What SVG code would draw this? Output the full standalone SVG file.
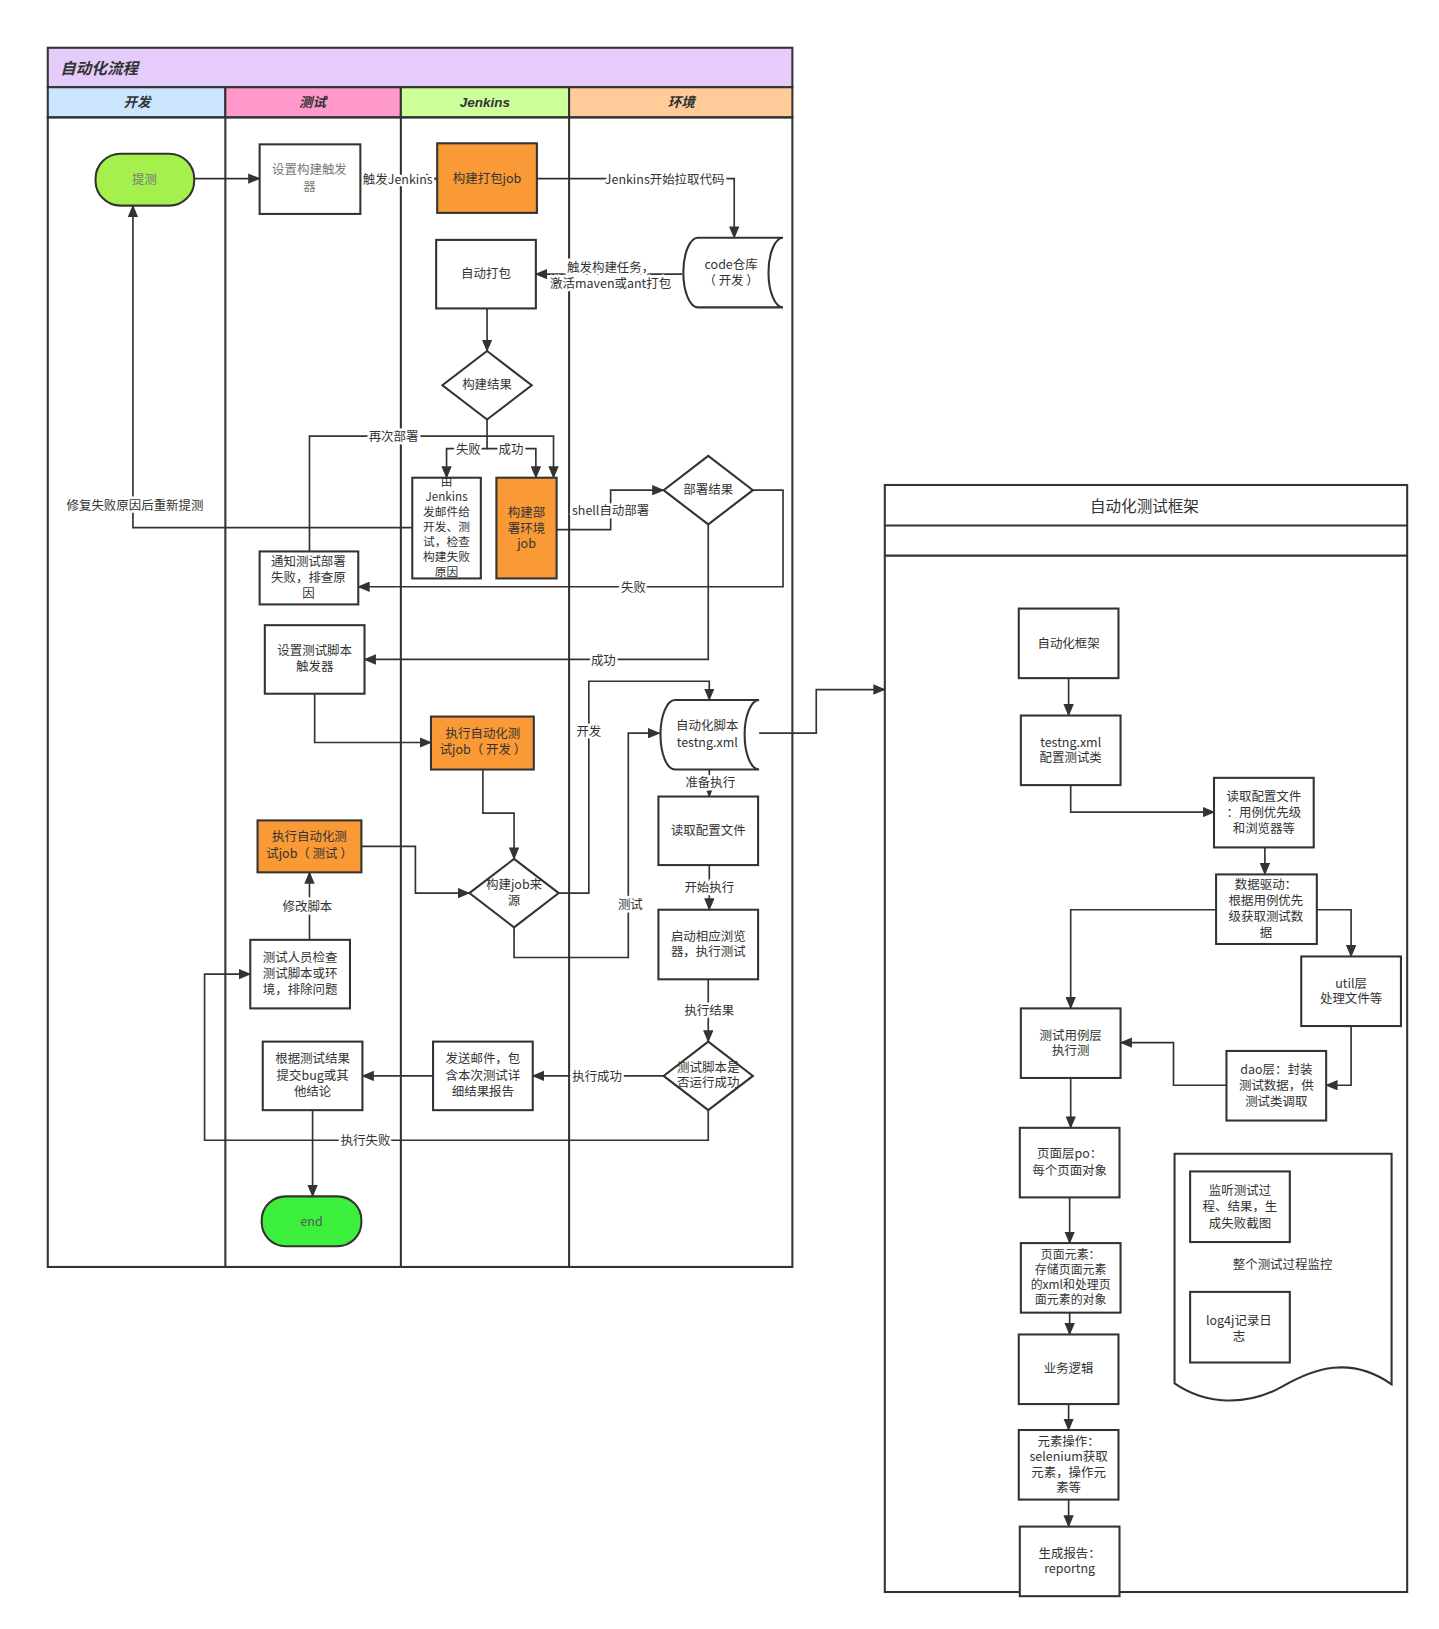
<svg xmlns="http://www.w3.org/2000/svg" width="1439" height="1629" viewBox="0 0 1439 1629">
<defs>
<marker id="arr" markerUnits="userSpaceOnUse" markerWidth="12" markerHeight="10" refX="11" refY="5" orient="auto">
<path d="M0,0 L12,5 L0,10 z" fill="#333"/>
</marker>
<style>
.bx{fill:#fff;stroke:#333;stroke-width:2}
.or{fill:#F99A36;stroke:#333;stroke-width:2}
.t{font-family:"Noto Sans CJK SC","Liberation Sans",sans-serif;font-size:12px;fill:#333;text-anchor:middle}
.g{fill:#777}
.h{font-family:"Liberation Sans","Noto Sans CJK SC",sans-serif;font-size:13px;font-style:italic;font-weight:bold;fill:#333;text-anchor:middle}
.c{fill:none;stroke:#333;stroke-width:1.6;marker-end:url(#arr)}
.lb{font-family:"Noto Sans CJK SC","Liberation Sans",sans-serif;font-size:12px;fill:#333;text-anchor:middle;paint-order:stroke;stroke:#fff;stroke-width:5px;stroke-linejoin:round}
</style>
</defs>
<rect width="1439" height="1629" fill="#fff"/>
<g id="diagram" transform="scale(1.0385)">

<g id="pool">
<rect x="46" y="46" width="717" height="38" fill="#E6CCFB" stroke="#333" stroke-width="2"/>
<text x="58" y="71" class="h" style="text-anchor:start;font-size:15px">自动化流程</text>
<rect x="46" y="84" width="171" height="29" fill="#CCE5FF" stroke="#333" stroke-width="2"/>
<rect x="217" y="84" width="169" height="29" fill="#FF99CC" stroke="#333" stroke-width="2"/>
<rect x="386" y="84" width="162" height="29" fill="#CCFF99" stroke="#333" stroke-width="2"/>
<rect x="548" y="84" width="215" height="29" fill="#FFCC99" stroke="#333" stroke-width="2"/>
<text x="132" y="103" class="h">开发</text>
<text x="301" y="103" class="h">测试</text>
<text x="467" y="103" class="h">Jenkins</text>
<text x="656" y="103" class="h">环境</text>
<rect x="46" y="113" width="717" height="1107" fill="none" stroke="#333" stroke-width="2"/>
<line x1="217" y1="113" x2="217" y2="1220" stroke="#333" stroke-width="2"/>
<line x1="386" y1="113" x2="386" y2="1220" stroke="#333" stroke-width="2"/>
<line x1="548" y1="113" x2="548" y2="1220" stroke="#333" stroke-width="2"/>
</g>

<g id="framework">
<rect x="852" y="467" width="503" height="1066" fill="#fff" stroke="#333" stroke-width="2"/>
<line x1="852" y1="506" x2="1355" y2="506" stroke="#333" stroke-width="2"/>
<line x1="852" y1="535" x2="1355" y2="535" stroke="#333" stroke-width="2"/>
<text x="1102" y="493" class="t" style="font-size:15px">自动化测试框架</text>
</g>

<g id="connectors">
<path class="c" d="M187,172 H250"/>
<path class="c" d="M347,172 H421"/>
<path class="c" d="M517,172 H707 V229"/>
<path class="c" d="M657,264 H516"/>
<path class="c" d="M469,297 V338"/>
<path class="c" d="M469,404 V432 H430 V460"/>
<path class="c" d="M469,432 H516 V460"/>
<path class="c" d="M298,531 V420 H533 V460"/>
<path class="c" d="M397,508 H128 V198"/>
<path class="c" d="M536,510 H588 V472 H639"/>
<path class="c" d="M725,472 H754 V565 H345"/>
<path class="c" d="M682,505 V635 H351"/>
<path class="c" d="M303,668 V715 H415"/>
<path class="c" d="M465,741 V783 H495 V827"/>
<path class="c" d="M348,815 H400 V860 H452"/>
<path class="c" d="M538,860 H567 V656 H683 V674"/>
<path class="c" d="M495,893 V922 H605 V706 H635"/>
<path class="c" d="M683,741 V767"/>
<path class="c" d="M683,833 V876"/>
<path class="c" d="M682,943 V1003"/>
<path class="c" d="M639,1036 H513"/>
<path class="c" d="M417,1036 H349"/>
<path class="c" d="M682,1069 V1098 H197 V938 H241"/>
<path class="c" d="M298,905 V840"/>
<path class="c" d="M301,1069 V1152"/>
<path class="c" d="M731,706 H786 V664 H852"/>
<path class="c" d="M1029,653 V689"/>
<path class="c" d="M1031,756 V782 H1169"/>
<path class="c" d="M1218,816 V842"/>
<path class="c" d="M1171,876 H1031 V971"/>
<path class="c" d="M1268,876 H1301 V921"/>
<path class="c" d="M1301,988 V1045 H1277"/>
<path class="c" d="M1181,1045 H1130 V1004 H1079"/>
<path class="c" d="M1031,1038 V1086"/>
<path class="c" d="M1030,1153 V1197"/>
<path class="c" d="M1030,1264 V1285"/>
<path class="c" d="M1029,1352 V1377"/>
<path class="c" d="M1029,1444 V1470"/>
<text class="lb" x="383" y="177">触发Jenkins</text>
<text class="lb" x="640" y="177">Jenkins开始拉取代码</text>
<text class="lb" x="588" y="262">触发构建任务，<tspan x="588" dy="15">激活maven或ant打包</tspan></text>
<text class="lb" x="451" y="437">失败</text>
<text class="lb" x="492" y="437">成功</text>
<text class="lb" x="379" y="425">再次部署</text>
<text class="lb" x="130" y="491">修复失败原因后重新提测</text>
<text class="lb" x="588" y="496">shell自动部署</text>
<text class="lb" x="610" y="570">失败</text>
<text class="lb" x="581" y="640">成功</text>
<text class="lb" x="567" y="709">开发</text>
<text class="lb" x="607" y="875">测试</text>
<text class="lb" x="684" y="758">准备执行</text>
<text class="lb" x="683" y="859">开始执行</text>
<text class="lb" x="683" y="977">执行结果</text>
<text class="lb" x="575" y="1041">执行成功</text>
<text class="lb" x="352" y="1103">执行失败</text>
<text class="lb" x="296" y="877">修改脚本</text>
</g>

<g id="n-tice"><rect x="92" y="148" width="95" height="50" rx="24" fill="#A6F04E" stroke="#333" stroke-width="2"/><text class="t g" x="139" y="177">提测</text></g>
<g id="n-trigger"><rect class="bx" x="250" y="139" width="97" height="67"/><text class="t g" x="298" y="168">设置构建触发<tspan x="298" dy="15.5">器</tspan></text></g>
<g id="n-buildjob"><rect class="or" x="421" y="138" width="96" height="67"/><text class="t" x="469" y="176">构建打包job</text></g>
<g id="n-code"><path class="bx" d="M672,229 H754 A14 33.5 0 0 0 754,296 H672 A14 33.5 0 0 1 672,229 Z"/><text class="t" x="704" y="259">code仓库<tspan x="704" dy="15">（ 开发 ）</tspan></text></g>
<g id="n-pack"><rect class="bx" x="420" y="231" width="96" height="66"/><text class="t" x="468" y="268">自动打包</text></g>
<g id="n-result"><path class="bx" d="M469,338 L512,371 L469,404 L426,371 Z"/><text class="t" x="469" y="375">构建结果</text></g>
<g id="n-mail"><rect class="bx" x="397" y="460" width="66" height="97"/>
<text class="t" x="430" y="468" style="font-size:11.3px">由<tspan x="430" dy="14.5">Jenkins</tspan><tspan x="430" dy="14.5">发邮件给</tspan><tspan x="430" dy="14.5">开发、测</tspan><tspan x="430" dy="14.5">试，检查</tspan><tspan x="430" dy="14.5">构建失败</tspan><tspan x="430" dy="14.5">原因</tspan></text></g>
<g id="n-deployjob"><rect class="or" x="478" y="460" width="58" height="97"/><text class="t" x="507" y="498">构建部<tspan x="507" dy="15">署环境</tspan><tspan x="507" dy="15">job</tspan></text></g>
<g id="n-deployres"><path class="bx" d="M682,439 L725,472 L682,505 L639,472 Z"/><text class="t" x="682" y="476">部署结果</text></g>
<g id="n-notify"><rect class="bx" x="250" y="531" width="95" height="51"/><text class="t" x="297" y="545">通知测试部署<tspan x="297" dy="15.5">失败，排查原</tspan><tspan x="297" dy="15.5">因</tspan></text></g>
<g id="n-scripttrig"><rect class="bx" x="255" y="602" width="96" height="66"/><text class="t" x="303" y="631">设置测试脚本<tspan x="303" dy="15">触发器</tspan></text></g>
<g id="n-script"><path class="bx" d="M650,674 H731 A14 33.5 0 0 0 731,741 H650 A14 33.5 0 0 1 650,674 Z"/><text class="t" x="681" y="703">自动化脚本<tspan x="681" dy="16">testng.xml</tspan></text></g>
<g id="n-rundev"><rect class="or" x="415" y="690" width="99" height="51"/><text class="t" x="465" y="711">执行自动化测<tspan x="465" dy="15">试job（ 开发 ）</tspan></text></g>
<g id="n-runtest"><rect class="or" x="248" y="790" width="100" height="50"/><text class="t" x="298" y="810">执行自动化测<tspan x="298" dy="16">试job（ 测试 ）</tspan></text></g>
<g id="n-readcfg"><rect class="bx" x="634" y="767" width="96" height="66"/><text class="t" x="682" y="804">读取配置文件</text></g>
<g id="n-source"><path class="bx" d="M495,827 L538,860 L495,893 L452,860 Z"/><text class="t" x="495" y="856">构建job来<tspan x="495" dy="15">源</tspan></text></g>
<g id="n-check"><rect class="bx" x="241" y="905" width="96" height="66"/><text class="t" x="289" y="926">测试人员检查<tspan x="289" dy="15.5">测试脚本或环</tspan><tspan x="289" dy="15.5">境，排除问题</tspan></text></g>
<g id="n-browser"><rect class="bx" x="634" y="876" width="96" height="67"/><text class="t" x="682" y="906">启动相应浏览<tspan x="682" dy="15">器，执行测试</tspan></text></g>
<g id="n-ok"><path class="bx" d="M682,1003 L725,1036 L682,1069 L639,1036 Z"/><text class="t" x="682" y="1032">测试脚本是<tspan x="682" dy="15">否运行成功</tspan></text></g>
<g id="n-sendmail"><rect class="bx" x="417" y="1003" width="96" height="66"/><text class="t" x="465" y="1024">发送邮件，包<tspan x="465" dy="15.5">含本次测试详</tspan><tspan x="465" dy="15.5">细结果报告</tspan></text></g>
<g id="n-bug"><rect class="bx" x="253" y="1003" width="96" height="66"/><text class="t" x="301" y="1024">根据测试结果<tspan x="301" dy="15.5">提交bug或其</tspan><tspan x="301" dy="15.5">他结论</tspan></text></g>
<g id="n-end"><rect x="252" y="1152" width="96" height="48" rx="23" fill="#3DF03D" stroke="#333" stroke-width="2"/><text class="t" x="300" y="1181" style="fill:#555">end</text></g>

<g id="f-frame"><rect class="bx" x="981" y="586" width="96" height="67"/><text class="t" x="1029" y="624">自动化框架</text></g>
<g id="f-testng"><rect class="bx" x="983" y="689" width="96" height="67"/><text class="t" x="1031" y="719">testng.xml<tspan x="1031" dy="15">配置测试类</tspan></text></g>
<g id="f-readcfg"><rect class="bx" x="1169" y="749" width="96" height="67"/><text class="t" x="1217" y="771">读取配置文件<tspan x="1217" dy="15.5">：用例优先级</tspan><tspan x="1217" dy="15.5">和浏览器等</tspan></text></g>
<g id="f-data"><rect class="bx" x="1171" y="842" width="97" height="67"/><text class="t" x="1219" y="856">数据驱动：<tspan x="1219" dy="15.3">根据用例优先</tspan><tspan x="1219" dy="15.3">级获取测试数</tspan><tspan x="1219" dy="15.3">据</tspan></text></g>
<g id="f-util"><rect class="bx" x="1253" y="921" width="96" height="67"/><text class="t" x="1301" y="951">util层<tspan x="1301" dy="15">处理文件等</tspan></text></g>
<g id="f-case"><rect class="bx" x="983" y="971" width="96" height="67"/><text class="t" x="1031" y="1001">测试用例层<tspan x="1031" dy="15">执行测</tspan></text></g>
<g id="f-dao"><rect class="bx" x="1181" y="1012" width="96" height="67"/><text class="t" x="1229" y="1034">dao层：封装<tspan x="1229" dy="15.5">测试数据，供</tspan><tspan x="1229" dy="15.5">测试类调取</tspan></text></g>
<g id="f-page"><rect class="bx" x="982" y="1086" width="96" height="67"/><text class="t" x="1030" y="1115">页面层po：<tspan x="1030" dy="16">每个页面对象</tspan></text></g>
<g id="f-elem"><rect class="bx" x="983" y="1197" width="96" height="67"/><text class="t" x="1031" y="1212" style="font-size:11.5px">页面元素：<tspan x="1031" dy="14.5">存储页面元素</tspan><tspan x="1031" dy="14.5">的xml和处理页</tspan><tspan x="1031" dy="14.5">面元素的对象</tspan></text></g>
<g id="f-biz"><rect class="bx" x="981" y="1285" width="96" height="67"/><text class="t" x="1029" y="1322">业务逻辑</text></g>
<g id="f-op"><rect class="bx" x="981" y="1377" width="96" height="67"/><text class="t" x="1029" y="1392">元素操作：<tspan x="1029" dy="15">selenium获取</tspan><tspan x="1029" dy="15">元素，操作元</tspan><tspan x="1029" dy="15">素等</tspan></text></g>
<g id="f-report"><rect class="bx" x="982" y="1470" width="96" height="67"/><text class="t" x="1030" y="1500">生成报告：<tspan x="1030" dy="15">reportng</tspan></text></g>
<g id="f-monitor"><path class="bx" d="M1131,1111 H1340 V1333 C1300,1305 1265,1318 1235,1335 C1200,1355 1160,1352 1131,1332 Z"/><text class="t" x="1235" y="1222">整个测试过程监控</text></g>
<g id="f-listen"><rect class="bx" x="1146" y="1128" width="96" height="68"/><text class="t" x="1194" y="1151">监听测试过<tspan x="1194" dy="15.5">程、结果，生</tspan><tspan x="1194" dy="15.5">成失败截图</tspan></text></g>
<g id="f-log"><rect class="bx" x="1146" y="1244" width="96" height="68"/><text class="t" x="1193" y="1276">log4j记录日<tspan x="1193" dy="15">志</tspan></text></g>
</g>
</svg>
